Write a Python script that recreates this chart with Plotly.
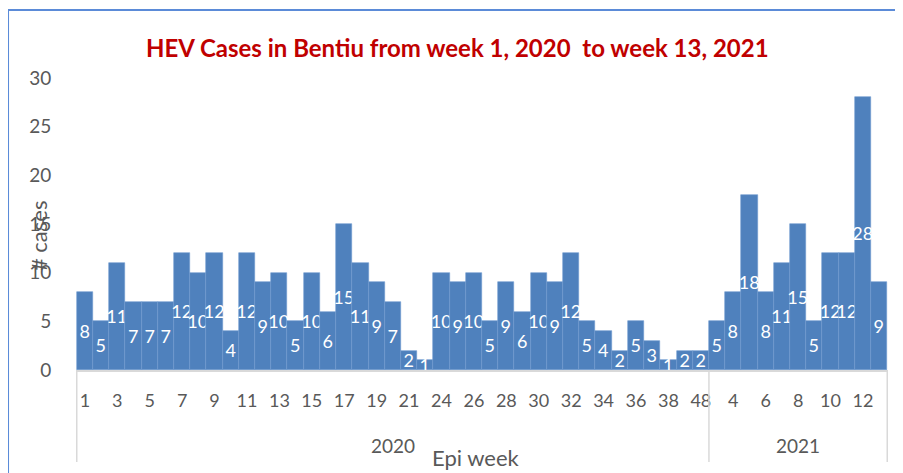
import plotly.graph_objects as go

# ---- data ----
weeks_2020 = [str(w) for w in range(1, 23)] + [str(w) for w in range(24, 40)] + ["48"]
cases_2020 = [8, 5, 11, 7, 7, 7, 12, 10, 12, 4,
              12, 9, 10, 5, 10, 6, 15, 11, 9, 7,
              2, 1,
              10, 9, 10, 5, 9, 6, 10, 9, 12, 5,
              4, 2, 5, 3, 1, 2, 2]
weeks_2021 = [str(w) for w in range(3, 14)]
cases_2021 = [5, 8, 18, 8, 11, 15, 5, 12, 12, 28, 9]
years = ["2020", "2021"]

title_text = "HEV Cases in Bentiu from week 1, 2020  to week 13, 2021"

FONT = "Lato, Carlito, Calibri, sans-serif"
GRAY = "#595959"
BAR = "#4F81BD"

keys = [f"{years[0]}-{w}" for w in weeks_2020] + [f"{years[1]}-{w}" for w in weeks_2021]
labels = weeks_2020 + weeks_2021
values = cases_2020 + cases_2021

fig = go.Figure()
fig.add_trace(go.Bar(
    x=keys, y=values,
    marker=dict(color=BAR, line=dict(color="#6E9AD0", width=0.6)),
    texttemplate="%{y}", textposition="inside", insidetextanchor="middle",
    textangle=0, textfont=dict(color="white", size=18, family=FONT),
    cliponaxis=False, hoverinfo="skip",
))

n20 = len(weeks_2020)
ntot = len(keys)

shapes = []
for xb in (-0.5, n20 - 0.5, ntot - 0.5):
    shapes.append(dict(type="line", xref="x", yref="paper", x0=xb, x1=xb, y0=0, y1=-0.315,
                       line=dict(color="#D9D9D9", width=1.5)))
# outer chart border (top and left visible)
shapes.append(dict(type="rect", xref="paper", yref="paper", x0=-0.0837, x1=1.3, y0=-1.0, y1=1.233,
                   line=dict(color="#5B8BD8", width=2), fillcolor="rgba(0,0,0,0)"))

annotations = [
    dict(text=f"<b>{title_text}</b>", xref="paper", yref="paper", x=0.47, y=1.106,
         showarrow=False, font=dict(family=FONT, size=24, color="#C00000"),
         xanchor="center", yanchor="middle"),
    dict(text=years[0], xref="x", yref="paper", x=(n20 - 1) / 2, y=-0.26, showarrow=False,
         font=dict(family=FONT, size=19, color=GRAY), xanchor="center", yanchor="middle"),
    dict(text=years[1], xref="x", yref="paper", x=(n20 + ntot - 1) / 2, y=-0.26, showarrow=False,
         font=dict(family=FONT, size=19, color=GRAY), xanchor="center", yanchor="middle"),
    dict(text="Epi week", xref="paper", yref="paper", x=0.4926, y=-0.30, showarrow=False,
         font=dict(family=FONT, size=22, color=GRAY), xanchor="center", yanchor="middle"),
    dict(text="# cases", xref="paper", yref="paper", x=-0.0468, y=0.462, showarrow=False,
         textangle=-90, font=dict(family=FONT, size=22, color=GRAY),
         xanchor="center", yanchor="middle"),
]

# the page body adds an 8px offset, so the figure is sized/placed to compensate
fig.update_layout(
    width=895, height=465,
    margin=dict(l=68, r=15, t=70, b=103),
    paper_bgcolor="white", plot_bgcolor="white",
    bargap=0,
    showlegend=False,
    uniformtext=dict(minsize=18, mode="show"),
    shapes=shapes,
    annotations=annotations,
    font=dict(family=FONT, color=GRAY),
)
fig.update_xaxes(
    type="category", tickmode="array", tickvals=keys[::2], ticktext=labels[::2],
    tickangle=0, tickfont=dict(family=FONT, size=18, color=GRAY),
    showline=True, linecolor="#D9D9D9", linewidth=1.5,
    ticks="outside", ticklen=14, tickcolor="rgba(0,0,0,0)",
    showgrid=False, fixedrange=True,
)
fig.update_yaxes(
    range=[0, 30], dtick=5, tick0=0,
    tickfont=dict(family=FONT, size=19, color=GRAY),
    ticks="outside", ticklen=20, tickcolor="rgba(0,0,0,0)",
    showgrid=False, showline=False, zeroline=False, fixedrange=True,
)

fig.write_html("out.html")
